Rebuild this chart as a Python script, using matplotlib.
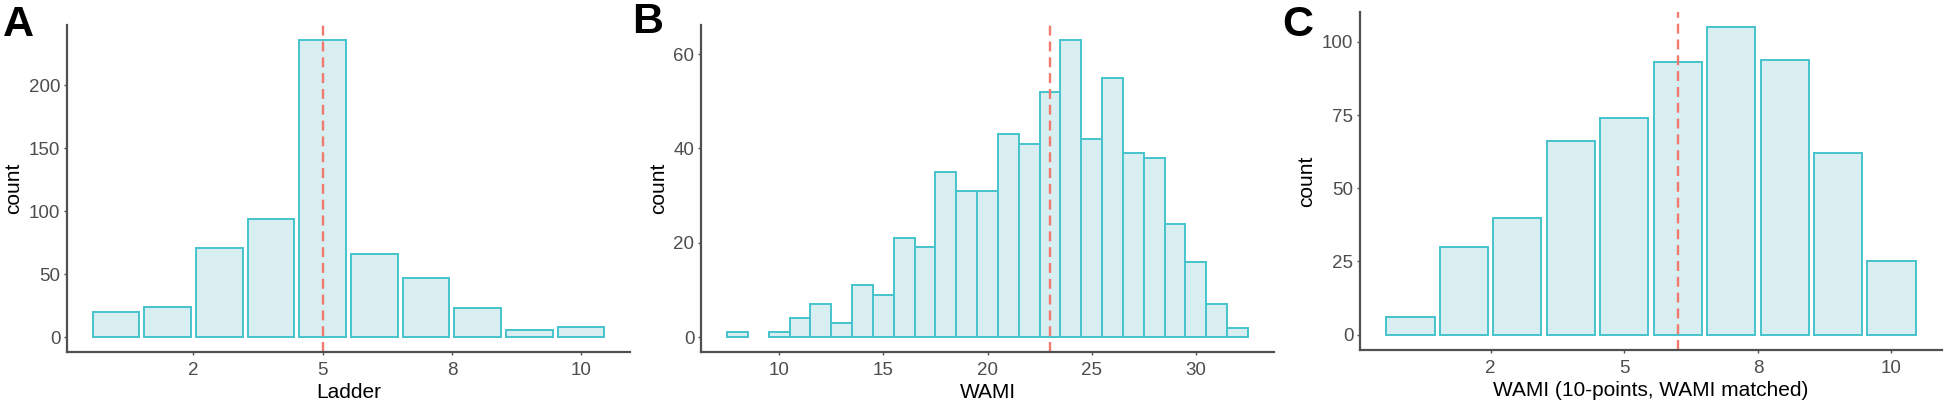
import numpy as np
import matplotlib
matplotlib.use('Agg')
import matplotlib.pyplot as plt

# panel A: Ladder
ladder_levels = [1, 2, 3, 4, 5, 6, 7, 8, 9, 10]
ladder_counts = [20, 24, 71, 94, 236, 66, 47, 23, 6, 8]
ladder_line = 5

# panel B: WAMI
wami_scores = [8, 9, 10, 11, 12, 13, 14, 15, 16, 17, 18, 19, 20,
               21, 22, 23, 24, 25, 26, 27, 28, 29, 30, 31, 32]
wami_counts = [1, 0, 1, 4, 7, 3, 11, 9, 21, 19, 35, 31, 31,
               43, 41, 52, 63, 42, 55, 39, 38, 24, 16, 7, 2]
wami_line = 23

# panel C: WAMI on 10 points
wami10_levels = [1, 2, 3, 4, 5, 6, 7, 8, 9, 10]
wami10_counts = [6, 30, 40, 66, 74, 93, 105, 94, 62, 25]
wami10_line = 6

ten_ticks = [2.5, 5, 7.5, 10]
ten_labels = ['2', '5', '8', '10']

plt.rcParams['font.family'] = ['Liberation Sans', 'DejaVu Sans']

FILL = '#d9eef0'
EDGE = '#45c3cc'
VLINE = '#f2796d'
AXC = '#505050'
TXT = '#4d4d4d'

W, H = 1944, 405
fig = plt.figure(figsize=(W / 100, H / 100), dpi=100)


def rect(l, r, t, b):
    return [l / W, 1 - b / H, (r - l) / W, (b - t) / H]


def style(ax, xlabel):
    for s in ['top', 'right']:
        ax.spines[s].set_visible(False)
    for s in ['left', 'bottom']:
        ax.spines[s].set_color(AXC)
        ax.spines[s].set_linewidth(1.6)
    ax.tick_params(length=2.5, width=1.0, color=AXC, labelcolor=TXT,
                   labelsize=13.5)
    ax.tick_params(axis='x', pad=4.5)
    ax.tick_params(axis='y', pad=2.2)
    ax.set_xlabel(xlabel, fontsize=15, color='black', labelpad=3)
    ax.set_ylabel('count', fontsize=15, color='black', labelpad=4)


def padded(lo, hi):
    d = (hi - lo) * 0.05
    return lo - d, hi + d


# A
axA = fig.add_axes(rect(67, 630, 25, 352))
axA.bar(ladder_levels, ladder_counts, width=0.9, facecolor=FILL,
        edgecolor=EDGE, linewidth=1.4)
axA.axvline(ladder_line, color=VLINE, lw=1.7, dashes=(4.2, 2.5))
axA.set_xlim(*padded(0.55, 10.45))
axA.set_ylim(*padded(0, max(ladder_counts)))
axA.set_xticks(ten_ticks)
axA.set_xticklabels(ten_labels)
axA.set_yticks([0, 50, 100, 150, 200])
style(axA, 'Ladder')

# B
axB = fig.add_axes(rect(701, 1274, 25, 352))
bx = [s for s, c in zip(wami_scores, wami_counts) if c > 0]
bc = [c for c in wami_counts if c > 0]
axB.bar(bx, bc, width=1.0, facecolor=FILL, edgecolor=EDGE, linewidth=1.4)
axB.axvline(wami_line, color=VLINE, lw=1.7, dashes=(4.2, 2.5))
axB.set_xlim(*padded(min(wami_scores) - 0.5, max(wami_scores) + 0.5))
axB.set_ylim(*padded(0, max(wami_counts)))
axB.set_xticks([10, 15, 20, 25, 30])
axB.set_yticks([0, 20, 40, 60])
style(axB, 'WAMI')

# C
axC = fig.add_axes(rect(1360, 1942, 12, 350))
axC.bar(wami10_levels, wami10_counts, width=0.9, facecolor=FILL,
        edgecolor=EDGE, linewidth=1.4)
axC.axvline(wami10_line, color=VLINE, lw=1.7, dashes=(4.2, 2.5))
axC.set_xlim(*padded(0.55, 10.45))
axC.set_ylim(*padded(0, max(wami10_counts)))
axC.set_xticks(ten_ticks)
axC.set_xticklabels(ten_labels)
axC.set_yticks([0, 25, 50, 75, 100])
style(axC, 'WAMI (10-points, WAMI matched)')

for lab, px, py in [('A', 3, 5), ('B', 632, 2), ('C', 1282, 5)]:
    fig.text(px / W, 1 - py / H, lab, ha='left', va='top', fontsize=31,
             fontweight='bold')

fig.savefig('out.png', dpi=100)
